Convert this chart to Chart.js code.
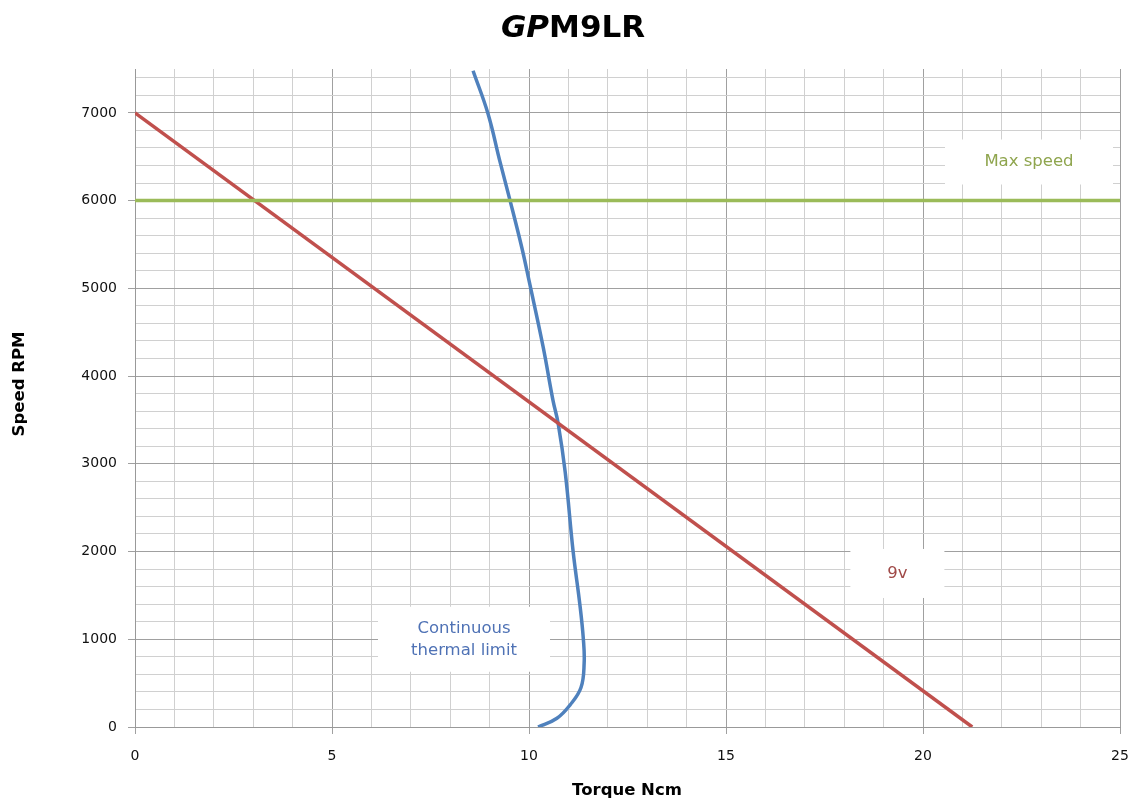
<!DOCTYPE html>
<html>
<head>
<meta charset="utf-8">
<script src="https://cdn.jsdelivr.net/npm/chart.js@4.4.0/dist/chart.umd.min.js"></script>
<style>
    html, body { margin: 0; padding: 0; background: #ffffff; }
    #wrap { width: 1133px; height: 798px; }
</style>
</head>
<body>
<div id="wrap"><canvas id="motorChart" width="1133" height="798"></canvas></div>
<script>
// Continuous thermal limit (blue curve)
const thermalTorque = [10.23, 10.71, 11.04, 11.32, 11.40, 11.38, 11.29, 11.12, 10.92, 10.74, 10.61, 10.36, 10.0, 9.82, 9.52, 9.26, 8.96, 8.58];
const thermalSpeed = [0, 100, 250, 450, 730, 1000, 1400, 2000, 2900, 3460, 3720, 4330, 5090, 5460, 6000, 6450, 6990, 7480];

// 9v speed/torque line (red)
const torque9v = [0, 21.25];
const speed9v = [7000, 0];

// Max speed line (green)
const maxTorque = [0, 25];
const maxSpeed = [6000, 6000];

// Axis ranges
const xRange = [0, 25];
const yRange = [0, 7500];

// Text boxes on the plot (centre in data units)
const noteLines = [['Max speed'], ['9v'], ['Continuous', 'thermal limit']];
const noteX = [22.69, 19.35, 8.35];
const noteY = [6440, 1750, 1000];
const noteColors = ['#8fa54e', '#a04a48', '#4f72b5'];

const FONT = "'DejaVu Sans', Verdana, sans-serif";

function toPoints(xs, ys) {
    return xs.map((x, i) => ({ x: x, y: ys[i] }));
}

// Draws the white label boxes under the lines, plus title and axis titles
const notesPlugin = {
    id: 'notes',
    beforeDatasetsDraw(chart) {
        const ctx = chart.ctx;
        const xs = chart.scales.x;
        const ys = chart.scales.y;
        const sizes = [[168, 45], [94, 49], [172, 65]];
        ctx.save();
        noteLines.forEach((lines, i) => {
            const cx = xs.getPixelForValue(noteX[i]);
            const cy = ys.getPixelForValue(noteY[i]);
            const w = sizes[i][0], h = sizes[i][1];
            ctx.fillStyle = '#ffffff';
            ctx.fillRect(cx - w / 2, cy - h / 2, w, h);
            ctx.fillStyle = noteColors[i];
            ctx.font = '16.5px ' + FONT;
            ctx.textAlign = 'center';
            ctx.textBaseline = 'middle';
            const lh = 22;
            lines.forEach((t, j) => {
                ctx.fillText(t, cx, cy + (j - (lines.length - 1) / 2) * lh);
            });
        });
        ctx.restore();
    },
    afterDraw(chart) {
        const ctx = chart.ctx;
        ctx.save();
        // Title: GP in italics, rest upright
        ctx.fillStyle = '#000000';
        ctx.textBaseline = 'middle';
        ctx.textAlign = 'left';
        const fItal = 'italic bold 31px ' + FONT;
        const fBold = 'bold 31px ' + FONT;
        ctx.font = fItal;
        const w1 = ctx.measureText('GP').width;
        ctx.font = fBold;
        const w2 = ctx.measureText('M9LR').width;
        const startX = 573 - (w1 + w2) / 2;
        ctx.font = fItal;
        ctx.fillText('GP', startX, 29);
        ctx.font = fBold;
        ctx.fillText('M9LR', startX + w1, 29);

        // Axis titles
        ctx.font = 'bold 16.5px ' + FONT;
        ctx.textAlign = 'center';
        ctx.fillText('Torque Ncm', 627, 791);
        ctx.translate(20, 384);
        ctx.rotate(-Math.PI / 2);
        ctx.fillText('Speed RPM', 0, 0);
        ctx.restore();
    }
};

const lineStyle = {
    showLine: true,
    pointRadius: 0,
    pointHoverRadius: 0,
    fill: false
};

const ctx = document.getElementById('motorChart').getContext('2d');
const chart = new Chart(ctx, {
    type: 'scatter',
    data: {
        datasets: [
            Object.assign({
                label: 'Max speed',
                data: toPoints(maxTorque, maxSpeed),
                borderColor: '#9bbb59',
                borderWidth: 3.5
            }, lineStyle),
            Object.assign({
                label: '9v',
                data: toPoints(torque9v, speed9v),
                borderColor: '#c0504d',
                borderWidth: 3.5
            }, lineStyle),
            Object.assign({
                label: 'Continuous thermal limit',
                data: toPoints(thermalTorque, thermalSpeed),
                borderColor: '#4f81bd',
                borderWidth: 3.5,
                tension: 0.4
            }, lineStyle)
        ]
    },
    options: {
        responsive: false,
        animation: false,
        devicePixelRatio: 1,
        layout: { padding: { top: 69, right: 13, left: 0, bottom: 0 } },
        plugins: {
            legend: { display: false },
            tooltip: { enabled: false },
            title: { display: false }
        },
        scales: {
            x: {
                type: 'linear',
                min: xRange[0],
                max: xRange[1],
                afterFit: s => { s.height = 71; s.paddingRight = 0; s.paddingLeft = 0; },
                border: { display: true, color: '#999999', width: 1 },
                grid: {
                    color: c => (c.tick && c.tick.value % 5 === 0) ? '#a0a0a0' : '#d0d0d0',
                    tickColor: c => (c.tick && c.tick.value % 5 === 0) ? '#a0a0a0' : 'rgba(0,0,0,0)',
                    tickLength: 7,
                    lineWidth: 1
                },
                ticks: {
                    stepSize: 1,
                    autoSkip: false,
                    maxRotation: 0,
                    padding: 14,
                    color: '#111111',
                    font: { family: FONT, size: 14 },
                    callback: v => (v % 5 === 0 ? v : '')
                }
            },
            y: {
                type: 'linear',
                min: yRange[0],
                max: yRange[1],
                afterFit: s => { s.width = 135; s.paddingTop = 0; s.paddingBottom = 0; },
                border: { display: true, color: '#999999', width: 1 },
                grid: {
                    color: c => (c.tick && c.tick.value % 1000 === 0) ? '#a0a0a0' : '#d0d0d0',
                    tickColor: c => (c.tick && c.tick.value % 1000 === 0) ? '#a0a0a0' : 'rgba(0,0,0,0)',
                    tickLength: 7,
                    lineWidth: 1
                },
                ticks: {
                    stepSize: 200,
                    includeBounds: false,
                    autoSkip: false,
                    padding: 11,
                    color: '#111111',
                    font: { family: FONT, size: 14 },
                    callback: v => (v % 1000 === 0 ? v : '')
                }
            }
        }
    },
    plugins: [notesPlugin]
});
</script>
</body>
</html>
